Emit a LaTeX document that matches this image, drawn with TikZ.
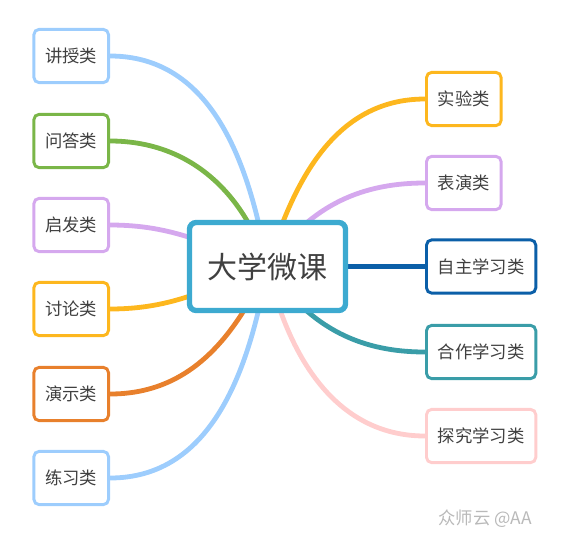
\documentclass[tikz,border=0pt]{standalone}
\usepackage{fontspec}
\setmainfont{Noto Sans CJK SC}
\usetikzlibrary{backgrounds}
\definecolor{hub}{HTML}{3DAAD0}
\definecolor{txt}{HTML}{404040}
\definecolor{sky}{HTML}{9DCDFD}
\definecolor{grass}{HTML}{7AB648}
\definecolor{lilac}{HTML}{D5A8EE}
\definecolor{amber}{HTML}{FDB71E}
\definecolor{rust}{HTML}{E8802C}
\definecolor{navy}{HTML}{0B5FA8}
\definecolor{teal}{HTML}{3A9DA8}
\definecolor{blush}{HTML}{FFCDCD}

\begin{document}
\begin{tikzpicture}[x=0.75pt,y=-0.75pt,
    leaf/.style={draw,line width=2.2pt,rounded corners=4pt,fill=white,
      minimum height=40pt,inner xsep=8.5pt,text=txt,
      font=\fontsize{13pt}{15pt}\selectfont},
    link/.style={line width=3.6pt}]
  \useasboundingbox (0,0) rectangle (567,536);
  % Centre
  \node[draw=hub,line width=4pt,rounded corners=5pt,fill=white,
    minimum width=117pt,minimum height=66pt,text=txt,
    font=\fontsize{22.5pt}{26pt}\selectfont] (hub) at (267.5,266.5) {大学微课};
  % Left branches
  \foreach \n/\t/\c/\y/\o in {jiangshou/讲授类/sky/56/100, wenda/问答类/grass/141/108,
      qifa/启发类/lilac/225/160, taolun/讨论类/amber/309/200,
      yanshi/演示类/rust/394/245, lianxi/练习类/sky/478/260}
  {
    \node[leaf,draw=\c,anchor=east] (\n) at (110,\y) {\t};
    \begin{scope}[on background layer]
      \draw[link,\c] (hub.center) to[out=\o,in=0] (\n.east);
    \end{scope}
  }
  % Right branches
  \foreach \n/\t/\c/\y/\o in {shiyan/实验类/amber/99/73, biaoyan/表演类/lilac/183/55,
      zizhu/自主学习类/navy/266.5/0, hezuo/合作学习类/teal/352/305,
      tanjiu/探究学习类/blush/436/283}
  {
    \node[leaf,draw=\c,anchor=west] (\n) at (425,\y) {\t};
    \begin{scope}[on background layer]
      \draw[link,\c] (hub.center) to[out=\o,in=180] (\n.west);
    \end{scope}
  }
  % Watermark
  \node[text=gray!55,font=\fontsize{13pt}{15pt}\selectfont] (mark) at (485,519) {众师云 @AA};
\end{tikzpicture}
\end{document}
